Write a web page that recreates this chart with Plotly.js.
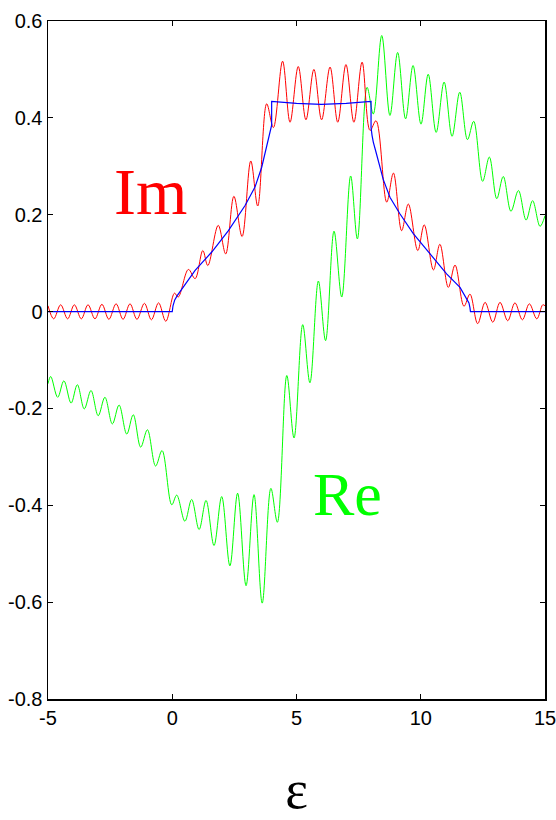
<!DOCTYPE html>
<html>
<head>
<meta charset="utf-8">
<script src="https://cdn.plot.ly/plotly-3.0.1.min.js"></script>
<style>html,body{margin:0;padding:0;background:#fff;}#chart{width:556px;height:820px;}</style>
</head>
<body>
<div id="chart"></div>
<script>
// Im (red) — extrema
const imX = [-5.00,-4.77,-4.49,-4.21,-3.94,-3.66,-3.39,-3.11,-2.83,-2.55,-2.26,-1.98,-1.70,-1.42,-1.12,-0.84,-0.55,-0.26,
  0.09,0.24,0.65,0.92,1.23,1.43,1.85,2.15,2.48,2.81,3.16,3.44,3.80,4.07,4.44,4.74,5.07,5.38,5.70,6.01,6.35,6.66,6.99,7.31,7.64,7.96,
  8.20,8.63,8.90,9.23,9.50,9.88,10.14,10.51,10.77,11.11,11.38,11.74,11.98,12.29,12.59,12.90,13.19,13.50,13.79,14.09,14.37,14.67,14.91,15.00];
const imY = [0.012,-0.015,0.014,-0.015,0.014,-0.015,0.014,-0.015,0.015,-0.016,0.016,-0.016,0.016,-0.016,0.017,-0.017,0.018,-0.020,
  0.038,0.030,0.087,0.068,0.126,0.095,0.178,0.119,0.238,0.155,0.311,0.218,0.429,0.380,0.517,0.391,0.506,0.396,0.500,0.396,0.505,0.391,0.510,0.391,0.515,0.374,
  0.394,0.226,0.286,0.167,0.222,0.126,0.179,0.086,0.139,0.050,0.096,0.011,0.036,-0.025,0.019,-0.022,0.019,-0.019,0.018,-0.017,0.016,-0.015,0.014,0.012];

// Re (green) — extrema
const reX = [-5.00,-4.89,-4.61,-4.36,-4.07,-3.82,-3.54,-3.27,-2.98,-2.71,-2.41,-2.14,-1.83,-1.57,-1.27,-1.00,-0.67,-0.41,-0.02,
  0.18,0.51,0.78,1.08,1.36,1.68,1.99,2.32,2.63,2.97,3.29,3.62,3.97,4.23,4.61,4.90,5.25,5.54,5.88,6.17,6.51,6.82,7.18,7.45,
  7.84,8.09,8.43,8.76,9.07,9.39,9.69,10.01,10.30,10.62,10.94,11.26,11.57,11.88,12.13,12.49,12.76,13.06,13.32,13.63,13.93,14.24,14.50,14.80,15.00];
const reY = [-0.149,-0.134,-0.177,-0.143,-0.189,-0.151,-0.201,-0.163,-0.215,-0.177,-0.232,-0.193,-0.253,-0.213,-0.280,-0.244,-0.319,-0.287,-0.399,
  -0.379,-0.433,-0.388,-0.450,-0.390,-0.483,-0.382,-0.525,-0.375,-0.566,-0.378,-0.602,-0.365,-0.435,-0.132,-0.261,-0.027,-0.147,0.063,-0.060,0.166,0.030,0.280,0.150,
  0.463,0.408,0.570,0.405,0.535,0.398,0.508,0.387,0.490,0.370,0.474,0.362,0.453,0.355,0.393,0.269,0.319,0.233,0.279,0.207,0.250,0.189,0.229,0.176,0.198];

// smooth (blue) curve
const blX = [-5,0,0.03,0.10,0.20,0.45,0.92,1.59,2.26,2.93,3.33,3.60,3.80,3.90,3.96,4.00,4.00,5.00,6.00,7.00,8.00,8.00,8.04,8.09,8.19,8.29,8.49,8.76,9.16,9.70,10.37,11.04,11.58,11.85,11.94,11.98,12.00,15];
const blY = [0,0,0.012,0.024,0.033,0.052,0.085,0.123,0.167,0.219,0.257,0.298,0.340,0.362,0.376,0.385,0.434,0.430,0.428,0.430,0.434,0.380,0.364,0.350,0.331,0.312,0.273,0.236,0.202,0.161,0.119,0.078,0.050,0.028,0.018,0.008,0,0];

const yTickVals = [0.6,0.4,0.2,0,-0.2,-0.4,-0.6,-0.8];
const yTickText = ["0.6","0.4","0.2","0","-0.2","-0.4","-0.6","-0.8"];
const xTickVals = [-5,0,5,10,15];
const xTickText = ["-5","0","5","10","15"];

const tickFont = {family: "'Liberation Sans Narrow', 'Arial Narrow', 'Liberation Sans', Arial, sans-serif", size: 20, color: "#000"};

const traces = [
  {x: reX, y: reY, mode: "lines", line: {color: "#00ff00", width: 1, shape: "spline", smoothing: 1}, hoverinfo: "skip"},
  {x: imX, y: imY, mode: "lines", line: {color: "#ff0000", width: 1, shape: "spline", smoothing: 1}, hoverinfo: "skip"},
  {x: blX, y: blY, mode: "lines", line: {color: "#0000ff", width: 1.2}, hoverinfo: "skip"}
];

const axisCommon = {showgrid: false, zeroline: false, showline: true, linecolor: "#000", linewidth: 1.5,
  mirror: "ticks", ticks: "inside", ticklen: 5, tickcolor: "#000", tickwidth: 1, tickfont: tickFont,
  ticklabeloverflow: "allow"};

const layout = {
  width: 556, height: 820,
  margin: {l: 48, r: 11, t: 21, b: 121},
  paper_bgcolor: "#fff", plot_bgcolor: "#fff",
  showlegend: false,
  xaxis: Object.assign({}, axisCommon, {range: [-5, 15], tickmode: "array", tickvals: xTickVals, ticktext: xTickText,
    title: {text: "ε", font: {family: "'Liberation Serif', 'DejaVu Serif', serif", size: 54, color: "#000"}, standoff: 50}}),
  yaxis: Object.assign({}, axisCommon, {range: [-0.8, 0.6], tickmode: "array", tickvals: yTickVals, ticktext: yTickText}),
  annotations: [
    {text: "Im", xref: "paper", yref: "paper", x: (150-48)/497, y: (699-192)/678, xanchor: "center", yanchor: "middle", showarrow: false,
      font: {family: "'Liberation Serif', 'Times New Roman', serif", size: 66, color: "#ff0000"}},
    {text: "Re", xref: "paper", yref: "paper", x: (347-48)/497, y: (699-494)/678, xanchor: "center", yanchor: "middle", showarrow: false,
      font: {family: "'Liberation Serif', 'Times New Roman', serif", size: 62, color: "#00ff00"}}
  ]
};

Plotly.newPlot("chart", traces, layout, {displayModeBar: false, staticPlot: true});
</script>
</body>
</html>
